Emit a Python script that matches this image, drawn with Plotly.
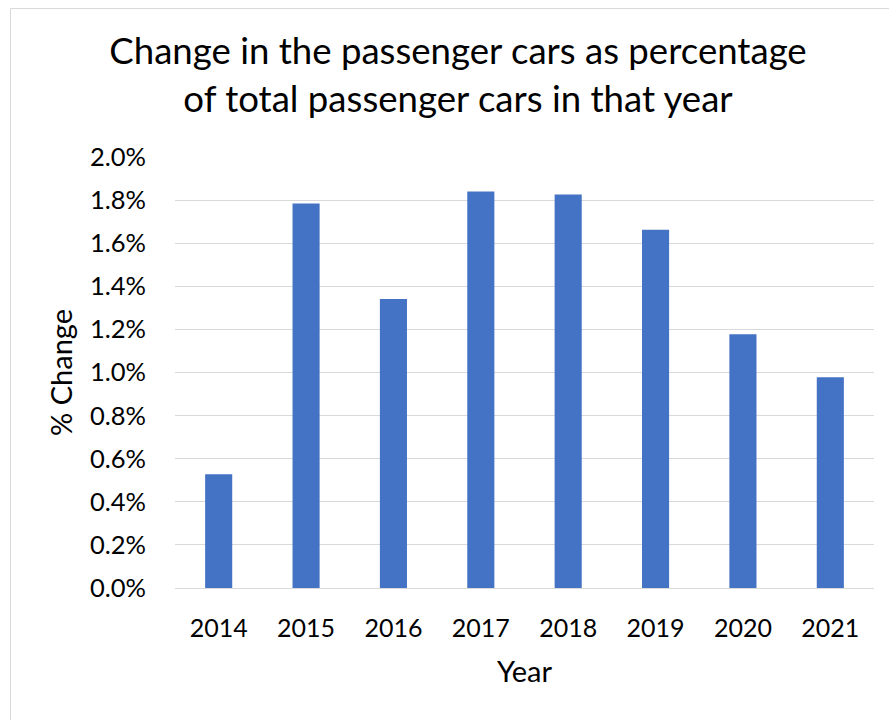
import plotly.graph_objects as go

# Year-over-year change in passenger cars, as a share of that year's total
years = ["2014", "2015", "2016", "2017", "2018", "2019", "2020", "2021"]
pct_change = [0.00528, 0.01784, 0.01341, 0.01840, 0.01826, 0.01662, 0.01177, 0.00978]

y_ticks = [i * 0.002 for i in range(11)]

FONT = "Lato"
W, H = 889, 720
L, R, T, B = 175, 15, 157, 132

fig = go.Figure(
    go.Bar(
        x=years,
        y=pct_change,
        marker=dict(color="#4472C4", line=dict(width=0)),
    )
)

plot_w = W - L - R
plot_h = H - T - B


def px_to_paper_x(px):
    return (px - L) / plot_w


def px_to_paper_y(py):
    return (H - B - py) / plot_h


fig.update_layout(
    width=W,
    height=H,
    margin=dict(l=L, r=R, t=T, b=B, autoexpand=False),
    paper_bgcolor="white",
    plot_bgcolor="white",
    bargap=0.69,
    showlegend=False,
    font=dict(family=FONT, color="#000000"),
    title=dict(
        text="Change in the passenger cars as percentage<br>of total passenger cars in that year",
        font=dict(family=FONT, size=36.6, color="#000000"),
        xref="container",
        x=458 / W,
        xanchor="center",
        yref="container",
        y=1 - 64 / H,
        yanchor="top",
    ),
    xaxis=dict(
        type="category",
        showgrid=False,
        showline=True,
        linecolor="#d9d9d9",
        linewidth=1,
        ticks="",
        tickfont=dict(family=FONT, size=25, color="#000000"),
        ticklabelstandoff=18,
        title=dict(text="Year", font=dict(family=FONT, size=29, color="#000000"), standoff=20),
    ),
    yaxis=dict(
        range=[0, 0.02],
        tickvals=y_ticks,
        tickformat=".1%",
        showgrid=True,
        gridcolor="#d9d9d9",
        gridwidth=1,
        zeroline=False,
        ticks="",
        tickfont=dict(family=FONT, size=25.5, color="#000000"),
        ticklabelstandoff=28,
        title=dict(text="% Change", font=dict(family=FONT, size=29, color="#000000"), standoff=8),
    ),
    shapes=[
        dict(
            type="rect",
            xref="paper",
            yref="paper",
            x0=px_to_paper_x(10.5),
            x1=px_to_paper_x(W + 20),
            y0=px_to_paper_y(H + 20),
            y1=px_to_paper_y(8.5),
            line=dict(color="#d9d9d9", width=1),
            fillcolor="rgba(0,0,0,0)",
            layer="below",
        )
    ],
)

fig.write_html("out.html")
